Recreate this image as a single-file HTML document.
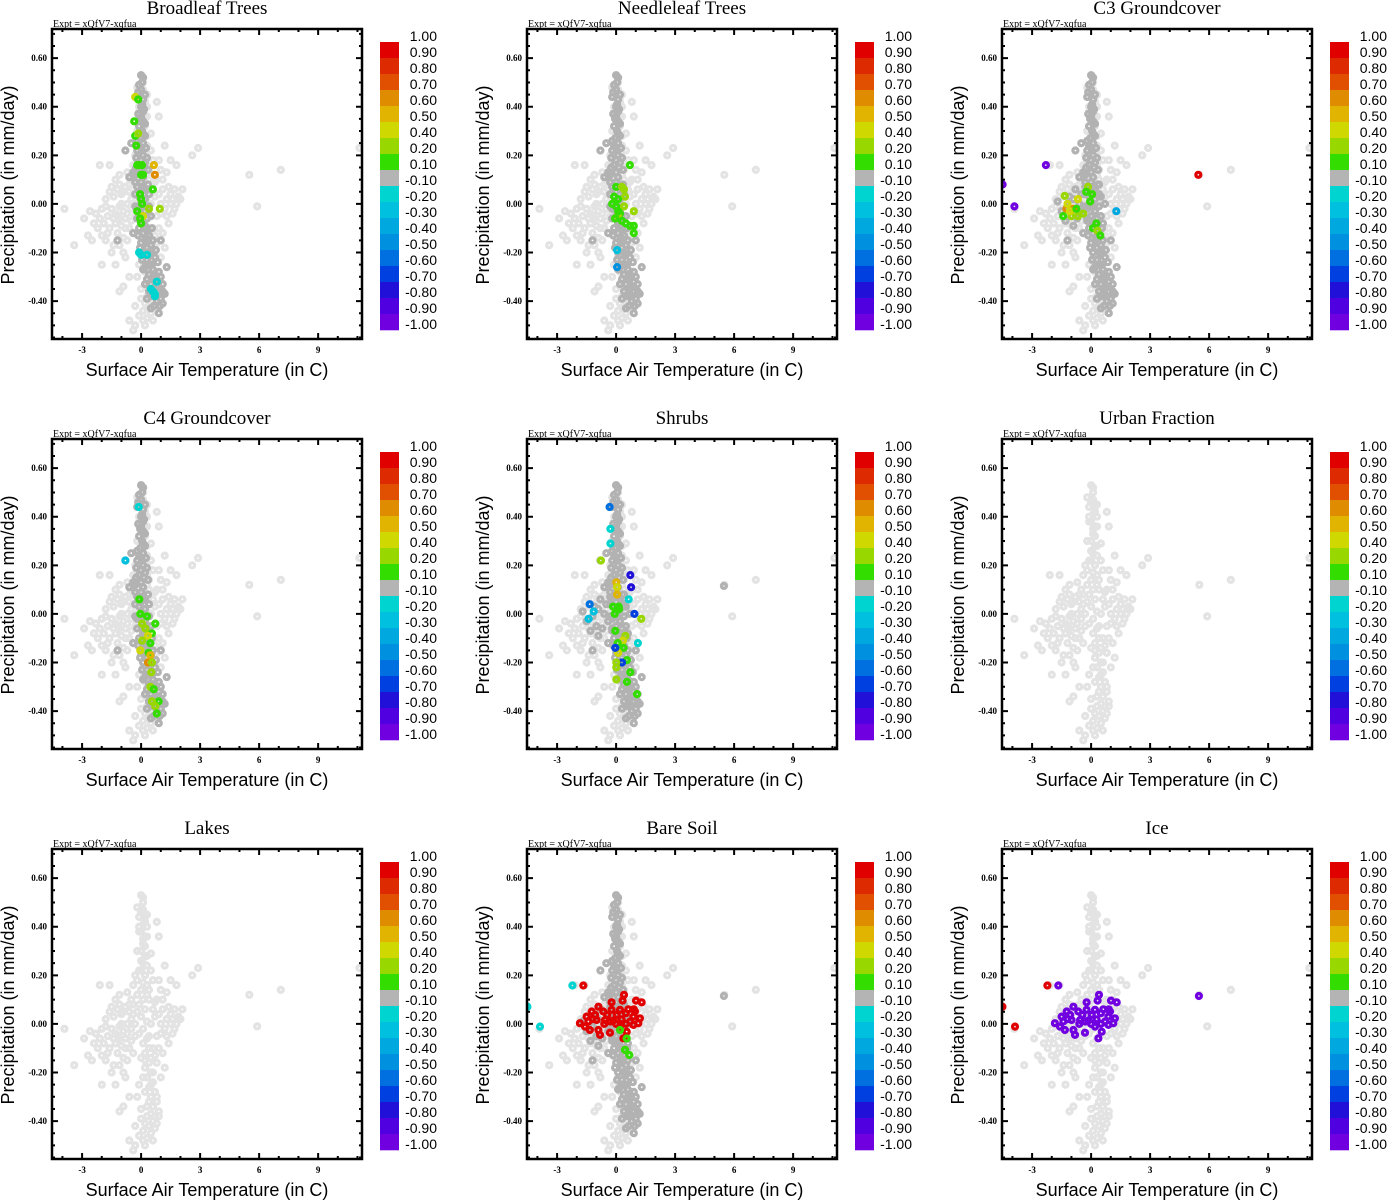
<!DOCTYPE html>
<html><head><meta charset="utf-8"><style>
body{margin:0;background:#fff;width:1388px;height:1200px;overflow:hidden}
svg{display:block}
</style></head><body>
<svg id="root" width="1388" height="1200" xmlns="http://www.w3.org/2000/svg"></svg>
<script>
// ---- data ----
const bounds=[1,0.9,0.8,0.7,0.6,0.5,0.4,0.2,0.1,-0.1,-0.2,-0.3,-0.4,-0.5,-0.6,-0.7,-0.8,-0.9,-1];
const boundLabels=["1.00","0.90","0.80","0.70","0.60","0.50","0.40","0.20","0.10","-0.10","-0.20","-0.30","-0.40","-0.50","-0.60","-0.70","-0.80","-0.90","-1.00"];
const segColors=["#e00000","#dd2a00","#e05000","#e08c00","#e0b400","#cfd800","#98d800","#33dd00","#b4b4b4","#00d4d0","#00c0e0","#00a8e0","#0090e0","#0070e0","#0040e0","#2010d8","#5000e0","#7000e0"];
const xTicks=[-3,0,3,6,9];
const xTickLabels=["-3","0","3","6","9"];
const yTicks=[0.6,0.4,0.2,0,-0.2,-0.4];
const yTickLabels=["0.60","0.40","0.20","0.00","-0.20","-0.40"];
const titles=["Broadleaf Trees","Needleleaf Trees","C3 Groundcover","C4 Groundcover","Shrubs","Urban Fraction","Lakes","Bare Soil","Ice"];
const bgPts=[[0,0.53],[0.1,0.52],[-0.2,0.48],[0.1,0.47],[0.3,0.45],[-0.1,0.44],[0.2,0.42],[0.8,0.42],[0.9,0.36],[0.5,0.29],[-0.1,0.38],[0.1,0.35],[0.2,0.32],[-0.2,0.3],[0.3,0.28],[0,0.26],
[-0.1,0.22],[0.2,0.2],[0.5,0.22],[1.2,0.24],[1.5,0.18],[1.8,0.16],[2.6,0.2],[2.9,0.23],[1.0,0.14],[1.3,0.13],[0.8,0.1],[-2.1,0.16],[-1.6,0.16],[-1.1,0.12],[-0.7,0.13],[-0.5,0.1],[-1.3,0.1],[-0.4,0.16],[0.6,0.18],[0.4,0.14],
[-2.6,-0.03],[-2.3,-0.04],[-2.0,-0.02],[-1.8,0.02],[-1.6,0.05],[-1.4,0.03],[-1.2,0.06],[-1.0,0.04],[-0.8,0.07],[-0.6,0.05],[-1.7,-0.05],[-1.5,-0.02],[-1.3,-0.04],[-1.1,-0.01],[-0.9,-0.03],[-0.7,0.0],[-0.5,-0.02],[-1.9,-0.08],[-1.6,-0.1],[-1.3,-0.08],[-1.0,-0.09],[-0.8,-0.06],[-0.6,-0.1],[-1.2,-0.12],[-0.9,-0.14],[-2.2,-0.1],[-2.0,-0.13],[-2.7,-0.13],[-2.4,-0.08],[-2.5,-0.15],[-1.8,-0.15],[-1.4,-0.17],[-1.5,-0.2],[-0.9,-0.2],[-0.8,-0.22],[0.6,0.06],[0.9,0.04],[1.1,0.06],[1.3,0.02],[1.5,0.04],[1.7,0.06],[1.9,0.03],[2.1,0.06],[1.2,-0.02],[1.5,0.0],[1.8,0.0],[1.6,-0.04],[1.3,-0.05],[1.0,-0.04],[0.9,-0.1],[1.1,-0.12],[0.8,-0.16],[0.6,-0.2],[1.2,-0.18],[0.2,-0.15],[0.4,-0.05],[-0.3,-0.05],[-0.2,0.05],[-0.4,0.08],[-3.4,-0.17],[-3.9,-0.02],[-2.9,-0.06],[-1.3,-0.25],[-0.6,-0.3],[-2.0,-0.25],
[-0.1,-0.25],[0.2,-0.28],[0.4,-0.32],[0,-0.35],[0.3,-0.38],[0.6,-0.4],[0.9,-0.38],[-0.3,-0.42],[0.1,-0.44],[-0.6,-0.48],[-0.3,-0.5],[0.1,-0.48],[0.5,-0.45],[-0.4,-0.52],[0.8,-0.3],[0.5,-0.25],[0.1,-0.22],[0.7,-0.43],[-0.9,-0.34],[-1.1,-0.36],
[0.1,0.5],[0.0,0.46],[0.2,0.44],[0.1,0.41],[0.0,0.38],[0.2,0.36],[0.1,0.33],[0.0,0.3],[0.2,0.28],[0.1,0.25],[0.0,0.22],[0.2,0.2],[0.1,0.17],[0.0,0.14],[0.3,0.12],[0.1,0.1],[-0.1,0.08],[0.2,0.06],[0.0,0.03],[0.3,0.01],[0.1,-0.02],[-0.1,-0.04],[0.3,-0.06],[0.1,-0.08],[0.4,-0.1],[0.2,-0.12],[0.0,-0.14],[0.4,-0.16],[0.2,-0.18],[0.5,-0.2],[0.3,-0.22],[0.6,-0.24],[0.4,-0.26],[0.7,-0.28],[0.5,-0.3],[0.8,-0.32],[0.6,-0.34],[0.9,-0.36],[0.7,-0.38],[0.8,-0.41],
[-1.0,0.0],[-1.2,-0.05],[-0.7,-0.04],[-0.5,0.02],[1.4,-0.08],[1.7,-0.02],[2.0,0.02],[5.5,0.12],[7.1,0.14],[5.9,-0.01],[11.1,0.23],[0.9,0.18],[1.1,0.1],[-0.3,0.2],[0.6,-0.1],[1.0,-0.22],[-0.2,-0.3],[0.3,-0.47],[0.6,-0.48]];
const bgExtra=[[-1.5,0.07],[-1.1,0.08],[-0.9,0.05],[-0.6,0.08],[-1.8,-0.01],[-1.4,-0.06],[-1.1,-0.06],[-0.8,-0.1],[-0.5,-0.07],[-0.4,-0.12],[-0.7,-0.15],[-1.1,-0.17],[-1.7,-0.12],[-2.1,-0.06],[-0.3,0.0],[-0.4,0.04],[0.5,0.0],[0.7,0.03],[0.8,-0.05],[1.0,0.0],[1.4,0.07],[1.6,0.02],[0.7,0.09],[0.5,-0.14],[0.7,-0.13],[0.3,-0.34],[0.5,-0.37],[0.2,-0.41],[0.4,-0.42],[0.0,-0.39],[-0.1,-0.46],[0.2,-0.5],[0.3,0.4],[0.3,0.36],[-0.1,0.4],[0.3,0.24],[-0.2,0.18],[0.3,0.16],[-0.2,0.12],[0.4,0.1]];
const darkCol=[[0,0.53],[0.1,0.52],[-0.1,0.49],[0,0.47],[0.2,0.45],[-0.2,0.44],[0.1,0.43],[0,0.4],[0.1,0.38],[0,0.36],[0.1,0.34],[-0.1,0.32],[0.05,0.3],[0.2,0.28],[-0.05,0.27],[0.1,0.25],[0,0.23],[-0.2,0.22],[0.1,0.2],[0,0.18],[-0.1,0.16],[0.15,0.15],[0,0.13],[-0.3,0.12],[0.1,0.11],[0,0.09],[-0.2,0.07],[0.2,0.06],[0,0.05],[-0.1,0.03],[0.2,0.02],[0,0.0],[-0.2,-0.02],[0.2,-0.03],[0,-0.05],[0.3,-0.06],[0.1,-0.08],[-0.1,-0.1],[0.3,-0.1],[0.1,-0.12],[0.4,-0.13],[0.2,-0.15],[0,-0.16],[0.5,-0.17],[0.3,-0.18],[0.1,-0.2],[0.5,-0.21],[0.3,-0.23],[0.7,-0.22],[0.4,-0.25],[0.2,-0.26],[0.6,-0.27],[0.9,-0.28],[0.4,-0.29],[0.7,-0.3],[0.3,-0.31],[0.9,-0.32],[0.5,-0.33],[1.1,-0.33],[0.7,-0.35],[0.4,-0.36],[0.9,-0.36],[1.2,-0.37],[0.6,-0.38],[1.0,-0.39],[0.8,-0.4],[1.1,-0.41],[0.5,-0.43],[0.9,-0.45],[-0.8,0.22],[-0.6,0.11],[-0.4,0.13],[-1.2,-0.15],[-0.4,-0.12],[1.0,-0.15],[1.3,-0.26],[-0.5,0.25],
[0.05,0.5],[0.05,0.41],[-0.05,0.35],[0.1,0.29],[-0.1,0.24],[0.2,0.17],[0.1,0.07],[0.1,-0.01],[0.2,-0.09],[0.25,-0.14],[0.4,-0.2],[0.55,-0.25],[0.6,-0.31],[0.8,-0.34],[0.75,-0.38]];
const darkExtra=[[-0.15,0.46],[0.15,0.39],[-0.15,0.37],[0.2,0.33],[-0.2,0.26],[0.25,0.23],[-0.25,0.19],[0.3,0.19],[-0.25,0.15],[0.35,0.14],[-0.3,0.09],[0.35,0.08],[-0.3,0.04],[0.4,0.04],[-0.3,-0.01],[0.4,-0.01],[-0.2,-0.06],[0.5,-0.05],[-0.15,-0.13],[0.55,-0.1],[-0.05,-0.18],[0.6,-0.15],[0.05,-0.23],[0.75,-0.19],[0.1,-0.27],[0.85,-0.24],[0.2,-0.33],[1.0,-0.3],[0.3,-0.39],[1.1,-0.36],[0.65,-0.42],[0.95,-0.42]];
const darkBlob=[[-1.5,-0.03],[-1.2,-0.01],[-0.9,0.02],[-0.6,0.0],[-0.4,-0.03],[-1.0,-0.05],[-0.7,-0.06],[-1.3,-0.07],[-0.5,0.04],[-0.8,0.06],[-0.3,0.07],[-1.1,0.03],[-0.2,-0.07],[0.5,0.03],[0.7,0.0],[0.4,0.08],[0.6,-0.08],[-1.7,0.01],[-0.9,-0.09]];
const darkOut=[[5.48,0.115]];
const colBroadleaf=[[-0.3,0.44,0.45],[-0.15,0.43,0.15],[-0.35,0.34,0.15],[-0.3,0.28,0.15],[-0.15,0.29,0.3],[-0.25,0.24,0.15],[-0.2,0.16,0.15],[-0.1,0.16,0.15],[0.05,0.16,0.15],[0,0.12,0.15],[0.1,0.12,0.15],[0.65,0.16,0.55],[0.7,0.12,0.65],[0.6,0.06,0.15],[-0.05,0.04,0.15],[0,0.02,0.15],[0.05,0.0,0.15],[0.95,-0.02,0.3],[0.4,-0.02,0.3],[-0.2,-0.03,0.15],[0.1,-0.05,0.45],[-0.05,-0.06,0.15],[0,-0.08,0.15],[-0.1,-0.2,-0.15],[0,-0.21,-0.15],[0.3,-0.21,-0.15],[0.8,-0.32,-0.15],[0.5,-0.35,-0.15],[0.7,-0.37,-0.15],[0.7,-0.38,-0.15],[0.6,-0.36,-0.15]];
const colNeedleleaf=[[0.7,0.16,0.15],[0.0,0.07,0.15],[0.3,0.07,0.3],[0.4,0.06,0.3],[0.45,0.03,0.3],[-0.1,0.03,0.15],[0.1,0.02,0.15],[-0.2,0.0,0.15],[0.0,-0.01,0.15],[0.4,-0.01,0.3],[0.9,-0.03,0.3],[0.2,-0.04,0.15],[0.1,-0.05,0.3],[0.3,-0.07,0.15],[0.5,-0.08,0.15],[0.7,-0.09,0.15],[0.9,-0.09,0.15],[0.9,-0.12,0.15],[0.1,-0.03,0.15],[-0.05,-0.06,0.15],[0.05,-0.19,-0.25],[0.05,-0.26,-0.45]];
const colC3=[[-1.34,0.033,0.3],[-0.67,0.02,0.45],[-0.16,0.07,0.3],[-0.25,0.05,0.15],[0.05,0.04,0.15],[-0.05,0.01,0.15],[-1.25,-0.02,0.65],[-0.9,-0.02,0.65],[-1.2,0.0,0.45],[-1.42,-0.05,0.15],[-1.0,-0.05,0.3],[-0.67,-0.05,0.3],[-0.4,-0.04,0.3],[0.27,-0.08,0.15],[0.1,-0.1,0.15],[0.32,-0.11,0.3],[0.47,-0.13,0.15],[-1.08,-0.03,0.45],[-0.75,-0.02,0.15],[1.28,-0.03,-0.35],[-4.5,0.08,-0.95],[-3.9,-0.01,-0.95],[-2.3,0.16,-0.95],[5.45,0.12,0.95]];
const colC4=[[-0.8,0.22,-0.3],[-0.12,0.44,-0.15],[-0.09,0.06,0.15],[-0.04,0.0,0.15],[0.3,-0.01,0.15],[0.72,-0.04,0.15],[0.05,-0.04,0.3],[0.22,-0.06,0.3],[0.55,-0.08,0.15],[0.35,-0.09,0.45],[0.05,-0.11,0.3],[0.47,-0.12,0.15],[-0.04,-0.15,0.45],[0.38,-0.16,0.15],[0.47,-0.17,0.55],[0.35,-0.2,0.65],[0.55,-0.2,0.3],[0.52,-0.24,0.3],[0.47,-0.3,0.3],[0.64,-0.31,0.15],[0.89,-0.36,0.15],[0.55,-0.36,0.3],[0.72,-0.38,0.3],[0.8,-0.41,0.15]];
const colShrubs=[[-0.33,0.44,-0.55],[-0.29,0.35,-0.15],[-0.29,0.29,-0.15],[-0.77,0.22,0.3],[0.72,0.16,-0.75],[0.76,0.11,-0.75],[0.01,0.13,0.55],[0.05,0.11,0.45],[0.05,0.08,0.55],[0.64,0.06,-0.15],[-0.16,0.03,0.15],[0.13,0.03,0.15],[0.15,0.02,0.15],[-1.34,0.04,-0.55],[-1.14,0.01,-0.25],[-1.4,-0.02,-0.25],[0.93,0.0,-0.65],[-0.07,0.0,0.15],[1.28,-0.02,0.3],[-0.04,-0.07,0.15],[0.47,-0.09,0.3],[0.35,-0.11,0.45],[0.08,-0.12,0.15],[0.38,-0.14,0.15],[1.11,-0.12,-0.15],[0.1,-0.16,0.45],[-0.04,-0.14,-0.65],[0.55,-0.19,0.15],[0.3,-0.2,-0.65],[0.01,-0.2,0.3],[0.01,-0.22,0.3],[0.72,-0.24,0.15],[0.01,-0.27,0.3],[0.55,-0.28,0.15],[1.06,-0.33,0.15]];
const soilCluster=[[0.40,0.12],[-0.23,0.089],[0.33,0.096],[1.01,0.096],[1.30,0.089],[-0.90,0.071],[-1.24,0.051],[-0.65,0.051],[-0.23,0.058],[0.20,0.058],[0.62,0.06],[0.96,0.051],[-1.50,0.03],[-1.07,0.037],[-0.45,0.037],[0.03,0.037],[0.50,0.044],[0.88,0.03],[1.21,0.023],[-1.84,0.003],[-1.41,0.01],[-0.99,0.016],[-0.56,0.016],[-0.14,0.014],[0.28,0.019],[0.71,0.01],[1.13,0.003],[-1.33,-0.025],[-0.90,-0.025],[-0.31,-0.036],[0.54,-0.032],[0.20,-0.011],[0.88,-0.004],[-1.58,-0.011],[-0.82,-0.045],[0.37,-0.059],[-0.6,0.0],[0.0,0.0],[-1.2,0.02],[0.5,0.0],[-0.3,0.01],[0.9,0.06]];
const colBareExtra=[[-2.22,0.158,-0.15],[-1.67,0.158,0.95],[-4.51,0.071,-0.15],[-3.87,-0.011,-0.15],[0.2,-0.025,0.15],[0.54,-0.06,0.15],[0.45,-0.107,0.15],[0.67,-0.128,0.15]];
const colIceExtra=[[-2.22,0.158,0.95],[-1.67,0.158,-0.95],[-4.51,0.071,0.95],[-3.87,-0.011,0.95],[5.48,0.115,-0.95]];
const soilValue=0.95, iceValue=-0.95;

// ---- drawing ----
const NS="http://www.w3.org/2000/svg";
const root=document.getElementById('root');
const X0=-4.53,X1=11.23,Y0=-0.556,Y1=0.72;
const PL=52,PR=362,PT=29,PB=339;
function sx(v){return PL+(v-X0)/(X1-X0)*(PR-PL);}
function sy(v){return PT+(Y1-v)/(Y1-Y0)*(PB-PT);}
function colorOf(v){for(let i=0;i<segColors.length;i++){if(v<=bounds[i]&&v>=bounds[i+1])return segColors[i];}return segColors[8];}
function mk(tag,attrs,parent){const e=document.createElementNS(NS,tag);for(const k in attrs)e.setAttribute(k,attrs[k]);parent.appendChild(e);return e;}
function txt(s,attrs,parent){const e=mk('text',attrs,parent);e.textContent=s;return e;}

function dot(g,x,y,c){
  const c1=mk('circle',{cx:sx(x).toFixed(1),cy:sy(y).toFixed(1),r:2.5,fill:'none',stroke:c,'stroke-width':3.2},g);
  
  
}

for(let p=0;p<9;p++){
  const ox=(p%3)*475, oy=Math.floor(p/3)*410;
  const g=mk('g',{transform:`translate(${ox},${oy})`},root);
  
  
  const t=txt(titles[p],{x:207,y:14,'text-anchor':'middle','font-family':'Liberation Serif, serif','font-size':19},g);
  
  
  const ex=txt('Expt = xQfV7-xqfua',{x:53,y:27,'font-family':'Liberation Serif, serif','font-size':10},g);
  
  
  const pg=mk('g',{},g);
  
  
  const clip='clip'+p;
  const cp=mk('clipPath',{id:clip},g);mk('rect',{x:PL,y:PT,width:PR-PL,height:PB-PT},cp);
  pg.setAttribute('clip-path',`url(#${clip})`);
  bgPts.forEach(d=>dot(pg,d[0],d[1],'#e3e3e3'));
  bgExtra.forEach(d=>dot(pg,d[0],d[1],'#e3e3e3'));
  const dark='#b2b2b2';
  if([0,1,2,3,4,7].includes(p)){darkCol.forEach(d=>dot(pg,d[0],d[1],dark));darkExtra.forEach(d=>dot(pg,d[0],d[1],dark));}
  if([2,4,7].includes(p)) darkBlob.forEach(d=>dot(pg,d[0],d[1],dark));
  if([4,7].includes(p)) darkOut.forEach(d=>dot(pg,d[0],d[1],dark));
  const sets={0:colBroadleaf,1:colNeedleleaf,2:colC3,3:colC4,4:colShrubs};
  if(sets[p]) sets[p].forEach(d=>dot(pg,d[0],d[1],colorOf(d[2])));
  if(p===7){soilCluster.forEach(d=>dot(pg,d[0],d[1],colorOf(soilValue)));colBareExtra.forEach(d=>dot(pg,d[0],d[1],colorOf(d[2])));}
  if(p===8){soilCluster.forEach(d=>dot(pg,d[0],d[1],colorOf(iceValue)));colIceExtra.forEach(d=>dot(pg,d[0],d[1],colorOf(d[2])));}
  const fr=mk('rect',{x:PL,y:PT,width:PR-PL,height:PB-PT,fill:'none',stroke:'#000','stroke-width':2.5},g);
  
  
  let tk='';
  for(let v=-4;v<=11;v++){const x=sx(v);const L=xTicks.includes(v)?6:3;tk+=`M${x} ${PB}v${-L}M${x} ${PT}v${L}`;}
  for(let i=-11;i<=14;i++){const v=i*0.05;const y=sy(v);const L=(i%4===0)?6:3;tk+=`M${PL} ${y}h${L}M${PR} ${y}h${-L}`;}
  mk('path',{d:tk,stroke:'#000','stroke-width':2,fill:'none'},g);
  xTicks.forEach((v,i)=>{const e=txt(xTickLabels[i],{x:sx(v),y:353,'text-anchor':'middle','font-family':'Liberation Serif, serif','font-size':9,'font-weight':'bold'},g);
    
    });
  yTicks.forEach((v,i)=>{const e=txt(yTickLabels[i],{x:47,y:sy(v)+3,'text-anchor':'end','font-family':'Liberation Serif, serif','font-size':9,'font-weight':'bold'},g);
    
    });
  const xt=txt('Surface Air Temperature (in C)',{x:207,y:376,'text-anchor':'middle','font-family':'Liberation Sans, sans-serif','font-size':18},g);
  
  
  const yt=txt('Precipitation (in mm/day)',{x:0,y:0,'text-anchor':'middle','font-family':'Liberation Sans, sans-serif','font-size':18,transform:'translate(14,185) rotate(-90)'},g);
  
  
  const cb=mk('g',{},g);
  
  
  const segH=16;
  segColors.forEach((c,i)=>{const r=mk('rect',{x:380,y:42+i*segH,width:19,height:segH+0.3,fill:c},cb);
    
    });
  boundLabels.forEach((s,i)=>{const e=txt(s,{x:437,y:36+i*segH+5,'text-anchor':'end','font-family':'Liberation Sans, sans-serif','font-size':14},cb);
    
    });
}
</script>
</body></html>
